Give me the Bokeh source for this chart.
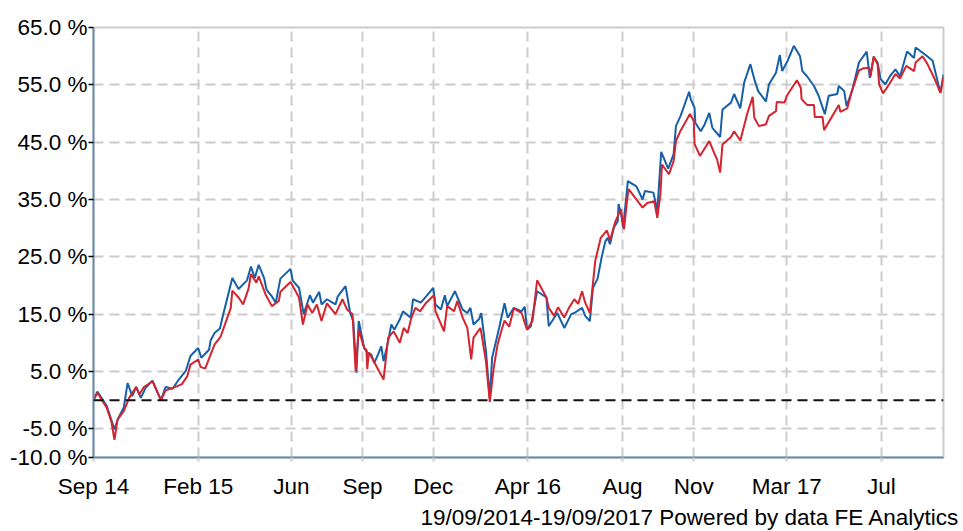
import pandas as pd

from bokeh.plotting import figure
from bokeh.models import FixedTicker, PrintfTickFormatter, Span, Title
from bokeh.embed import file_html
from bokeh.resources import INLINE

# 19/09/2014 - 19/09/2017, cumulative performance in %
start = pd.Timestamp("2014-09-19")
end = pd.Timestamp("2017-09-19")

tick_dates = ["2014-09-19", "2015-02-01", "2015-06-01", "2015-09-01", "2015-12-01",
              "2016-04-01", "2016-08-01", "2016-11-01", "2017-03-01", "2017-07-01"]
tick_labels = ["Sep 14", "Feb 15", "Jun", "Sep", "Dec",
               "Apr 16", "Aug", "Nov", "Mar 17", "Jul"]
y_ticks = [-10, -5, 5, 15, 25, 35, 45, 55, 65]

# fund (blue): days since start, growth %
fund_days = [0, 5, 17, 27, 32, 39, 44, 50, 55, 61, 67, 76, 87, 93, 102, 110, 119, 125,
             135, 139, 149, 151, 156, 163, 167, 179, 187, 198, 203, 208, 213, 220, 223,
             230, 235, 241, 254, 257, 265, 271, 279, 283, 291, 294, 301, 312, 315, 325,
             331, 335, 339, 342, 349, 353, 358, 362, 367, 371, 374, 380, 384, 388, 395,
             399, 409, 412, 422, 429, 438, 441, 448, 453, 456, 466, 476, 482, 486, 490,
             497, 500, 506, 511, 514, 523, 530, 534, 542, 552, 556, 559, 564, 568, 572,
             584, 587, 598, 607, 616, 620, 630, 634, 640, 644, 650, 655, 660, 663, 666,
             671, 676, 677, 680, 683, 689, 700, 708, 711, 722, 727, 732, 741, 748, 751,
             757, 768, 770, 775, 776, 783, 788, 794, 798, 808, 811, 822, 826, 834, 839,
             847, 852, 857, 867, 871, 880, 885, 888, 895, 903, 911, 914, 920, 929, 935,
             943, 948, 959, 961, 968, 971, 978, 987, 997, 1001, 1006, 1011, 1015, 1021,
             1027, 1034, 1040, 1049, 1058, 1060, 1069, 1073, 1082, 1092, 1096]
fund_pct = [0.0, 1.5, -1.0, -5.1, -3.1, -1.3, 3.0, 0.7, 2.3, 0.4, 2.1, 3.4, 0.0, 2.3, 2.0,
            3.6, 5.1, 7.7, 9.1, 7.4, 8.8, 10.4, 11.7, 12.5, 14.8, 21.3, 19.4, 20.9, 23.3,
            21.3, 23.6, 21.3, 19.3, 18.1, 17.0, 21.2, 22.9, 20.8, 19.6, 15.0, 18.3, 17.0,
            18.9, 16.7, 17.6, 16.7, 18.1, 19.9, 15.2, 13.8, 4.8, 13.8, 9.1, 8.3, 8.0, 6.5,
            8.0, 9.4, 6.8, 10.3, 13.2, 12.3, 14.1, 15.5, 14.4, 17.6, 17.0, 18.1, 19.6,
            16.7, 15.8, 18.3, 16.4, 19.0, 15.8, 15.2, 16.1, 13.2, 14.1, 15.2, 8.6, 0.4,
            7.4, 12.6, 16.9, 14.4, 16.1, 15.5, 16.3, 12.3, 12.9, 16.1, 19.0, 17.9, 12.9,
            15.2, 12.6, 15.0, 15.2, 16.1, 14.7, 13.8, 19.6, 21.2, 24.8, 27.7, 28.3, 27.2,
            30.1, 31.2, 34.2, 32.7, 30.1, 38.2, 37.3, 35.0, 36.5, 36.2, 33.0, 43.3, 40.4,
            42.9, 47.8, 49.6, 53.8, 52.5, 51.0, 48.4, 46.9, 48.1, 50.1, 47.5, 45.9, 50.7,
            51.9, 53.4, 50.9, 55.4, 58.6, 56.0, 53.9, 52.1, 55.1, 57.1, 60.2, 57.4, 59.2,
            61.8, 60.0, 57.4, 56.5, 54.8, 53.1, 49.9, 53.1, 53.4, 54.8, 53.9, 51.3, 53.9,
            58.9, 60.8, 56.2, 59.9, 58.9, 56.0, 55.1, 56.5, 57.7, 56.5, 60.8, 59.7, 61.5,
            60.6, 60.2, 59.2, 53.6, 56.8]

# sector average (red)
sector_days = [0, 5, 17, 23, 27, 31, 39, 46, 55, 59, 65, 76, 87, 93, 102, 114, 121, 125,
               135, 138, 144, 156, 164, 177, 179, 187, 193, 200, 203, 210, 213, 222, 230,
               239, 241, 254, 265, 270, 276, 282, 288, 294, 301, 312, 321, 327, 334, 338,
               342, 349, 352, 353, 355, 359, 366, 374, 380, 387, 395, 400, 405, 410, 415,
               421, 429, 439, 441, 452, 456, 465, 469, 476, 482, 487, 490, 499, 506, 511,
               516, 521, 527, 530, 536, 542, 552, 559, 566, 572, 584, 587, 594, 599, 607,
               613, 620, 625, 630, 634, 640, 647, 654, 662, 666, 673, 680, 684, 688, 690,
               708, 714, 723, 727, 731, 733, 742, 748, 751, 757, 769, 774, 775, 782, 794,
               800, 804, 808, 811, 822, 826, 834, 843, 850, 852, 858, 867, 871, 880, 881,
               891, 894, 907, 912, 913, 920, 929, 930, 940, 942, 961, 963, 972, 978, 987,
               993, 1000, 1002, 1006, 1011, 1013, 1018, 1026, 1034, 1040, 1048, 1058, 1060,
               1069, 1075, 1084, 1092, 1096]
sector_pct = [0.0, 1.3, -1.3, -3.7, -6.9, -3.4, -1.9, 0.4, 2.3, 1.0, 2.3, 3.3, 0.0, 1.7,
              2.1, 2.8, 4.2, 6.2, 7.1, 5.8, 5.5, 9.7, 11.1, 16.1, 19.1, 17.9, 16.7, 19.5,
              22.0, 20.5, 21.6, 18.4, 16.4, 17.3, 18.9, 20.6, 17.9, 13.2, 16.7, 15.2, 16.7,
              13.8, 16.9, 15.0, 17.6, 15.8, 15.0, 5.1, 12.3, 9.1, 8.8, 5.4, 8.3, 7.4, 5.6,
              3.6, 10.9, 12.0, 10.0, 12.6, 11.7, 14.4, 16.1, 15.5, 17.0, 18.3, 15.5, 12.0,
              16.4, 15.5, 17.3, 14.4, 12.6, 7.1, 10.9, 12.6, 6.8, -0.3, 5.6, 9.7, 12.6,
              13.9, 12.8, 16.0, 15.2, 12.3, 13.8, 20.9, 17.9, 16.1, 14.7, 16.2, 14.4, 16.1,
              17.6, 16.8, 19.0, 17.0, 15.2, 24.3, 28.3, 29.6, 27.9, 31.2, 33.3, 29.8, 34.9,
              36.8, 33.6, 34.4, 34.7, 31.8, 35.9, 41.1, 39.4, 41.7, 45.2, 47.0, 49.9, 48.7,
              44.7, 42.6, 45.2, 43.2, 42.0, 39.7, 44.6, 45.9, 46.9, 45.3, 50.0, 52.9, 49.3,
              47.8, 48.1, 49.6, 50.4, 52.0, 51.9, 53.1, 55.8, 54.5, 52.5, 51.5, 51.5, 49.4,
              49.4, 47.1, 51.5, 50.3, 50.9, 54.0, 57.5, 57.9, 58.0, 56.5, 59.9, 58.6, 55.1,
              53.5, 55.1, 56.9, 56.1, 58.3, 57.4, 58.9, 60.0, 58.7, 56.2, 53.6, 56.2]

tick_days = [(pd.Timestamp(d) - start).days for d in tick_dates]
total_days = (end - start).days

FONT = "Liberation Sans"
GRID = "#cccccc"
AXIS = "#6a8cb0"

p = figure(frame_width=850, frame_height=430,
           x_range=(0, total_days), y_range=(-10, 65),
           min_border_left=93, min_border_right=20, min_border_top=27, min_border_bottom=74,
           output_backend="svg", toolbar_location=None)

p.outline_line_color = GRID
p.outline_line_width = 2

# x axis
p.xaxis.ticker = FixedTicker(ticks=tick_days)
p.xaxis.major_label_overrides = {d: lab for d, lab in zip(tick_days, tick_labels)}
p.xaxis.axis_line_color = AXIS
p.xaxis.axis_line_width = 2
p.xaxis.major_tick_line_color = GRID
p.xaxis.major_tick_line_width = 2
p.xaxis.major_tick_in = 0
p.xaxis.major_tick_out = 4
p.xaxis.minor_tick_line_color = None
p.xaxis.major_label_standoff = 12

# y axis
p.yaxis.ticker = FixedTicker(ticks=y_ticks)
p.yaxis.formatter = PrintfTickFormatter(format="%.1f %%")
p.yaxis.axis_line_color = AXIS
p.yaxis.axis_line_width = 2
p.yaxis.major_tick_line_color = "black"
p.yaxis.major_tick_line_width = 1.5
p.yaxis.major_tick_in = 0
p.yaxis.major_tick_out = 5
p.yaxis.minor_tick_line_color = None
p.yaxis.major_label_standoff = 1

for ax in (p.xaxis, p.yaxis):
    ax.major_label_text_font = FONT
    ax.major_label_text_font_size = "22.5px"
    ax.major_label_text_color = "black"

p.xgrid.ticker = FixedTicker(ticks=tick_days)
p.ygrid.ticker = FixedTicker(ticks=y_ticks)
for g in (p.xgrid, p.ygrid):
    g.grid_line_color = GRID
    g.grid_line_width = 2
    g.grid_line_dash = "10 6"

# zero line
p.add_layout(Span(location=0, dimension="width", line_color="#111111",
                  line_width=2, line_dash="10 6"))

p.line(fund_days, fund_pct, line_color="#1560a9", line_width=2)
p.line(sector_days, sector_pct, line_color="#d4242f", line_width=2)

footer = Title(text="19/09/2014-19/09/2017 Powered by data FE Analytics",
               align="right", text_font=FONT, text_font_size="22.5px",
               text_font_style="normal", text_color="black", standoff=3, offset=-16)
p.add_layout(footer, "below")

open("out.html", "w").write(file_html(p, INLINE))
